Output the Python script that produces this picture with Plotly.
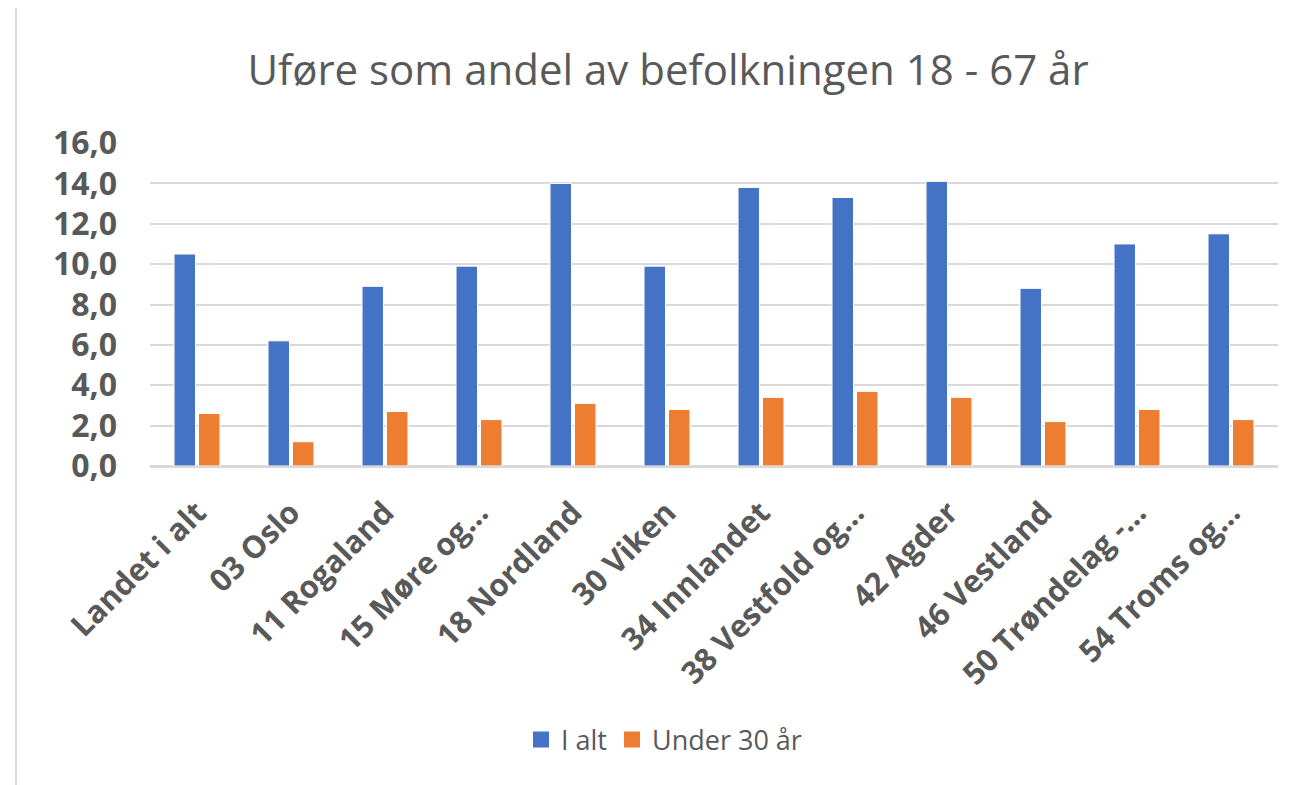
import plotly.graph_objects as go

categories = ["Landet i alt", "03 Oslo", "11 Rogaland", "15 Møre og…", "18 Nordland",
              "30 Viken", "34 Innlandet", "38 Vestfold og…", "42 Agder", "46 Vestland",
              "50 Trøndelag -…", "54 Troms og…"]
i_alt = [10.5, 6.2, 8.9, 9.9, 14.0, 9.9, 13.8, 13.3, 14.1, 8.8, 11.0, 11.5]
under_30 = [2.6, 1.2, 2.7, 2.3, 3.1, 2.8, 3.4, 3.7, 3.4, 2.2, 2.8, 2.3]
series_names = ["I alt", "Under 30 år"]
y_ticks = [0, 2, 4, 6, 8, 10, 12, 14, 16]
y_ticktext = ["0,0", "2,0", "4,0", "6,0", "8,0", "10,0", "12,0", "14,0", "16,0"]
title_text = "Uføre som andel av befolkningen 18 - 67 år"

BLUE = "#4472C4"
ORANGE = "#ED7D31"
GREY = "#595959"
FONT = "Open Sans"

# page has an 8px body margin: work in figure coords = screen coords - 8
OFF = 8
W, H = 1312 - OFF, 785 - OFF
plot_left, plot_right = 150 - OFF, 1278 - OFF
plot_top, plot_bottom = 143 - OFF, 466 - OFF
L, R, T, B = plot_left, W - plot_right, plot_top, H - plot_bottom
pw = plot_right - plot_left
ph = plot_bottom - plot_top


def px_x(x):
    return (x - OFF - plot_left) / pw


def px_y(y):
    return (plot_bottom - (y - OFF)) / ph


fig = go.Figure()
fig.add_trace(go.Bar(x=categories, y=i_alt, name=series_names[0], showlegend=False,
                     marker=dict(color=BLUE, line=dict(color="white", width=1))))
fig.add_trace(go.Bar(x=categories, y=under_30, name=series_names[1], showlegend=False,
                     marker=dict(color=ORANGE, line=dict(color="white", width=1))))
# legend entries with larger square swatches
for nm, col in zip(series_names, [BLUE, ORANGE]):
    fig.add_trace(go.Scatter(x=[None], y=[None], mode="markers", name=nm,
                             marker=dict(symbol="square", size=17, color=col)))

fig.update_layout(
    width=W, height=H,
    margin=dict(l=L, r=R, t=T, b=B, autoexpand=False),
    paper_bgcolor="white", plot_bgcolor="white",
    barmode="group", bargap=0.48, bargroupgap=0.12,
    title=dict(text=title_text, x=px_x(668), xref="paper", xanchor="center",
               y=1 - (70 - OFF) / H, yanchor="middle",
               font=dict(family=FONT, size=42, color=GREY)),
    font=dict(family=FONT, color=GREY),
    showlegend=True,
    legend=dict(orientation="h", x=px_x(664), xanchor="center",
                y=px_y(740), yanchor="middle",
                font=dict(family=FONT, size=27, color=GREY),
                itemwidth=30, traceorder="normal"),
    xaxis=dict(tickangle=-45, showgrid=False, showline=True, linecolor="#d9d9d9", linewidth=2,
               ticks="", ticklabelstandoff=14,
               tickfont=dict(family=FONT, size=31, color=GREY, weight="bold")),
    yaxis=dict(range=[0, 16], tickvals=y_ticks, ticktext=y_ticktext,
               showgrid=True, gridcolor="#d9d9d9", gridwidth=2, zeroline=True,
               zerolinecolor="#d9d9d9", zerolinewidth=2, ticks="", ticklabelstandoff=32,
               tickfont=dict(family=FONT, size=32, color=GREY, weight="bold")),
    shapes=[dict(type="rect", xref="paper", yref="paper",
                 x0=px_x(16), x1=px_x(1340),
                 y0=px_y(820), y1=px_y(7),
                 line=dict(color="#d9d9d9", width=2), fillcolor="rgba(0,0,0,0)", layer="below")],
)

fig.write_html("out.html")
